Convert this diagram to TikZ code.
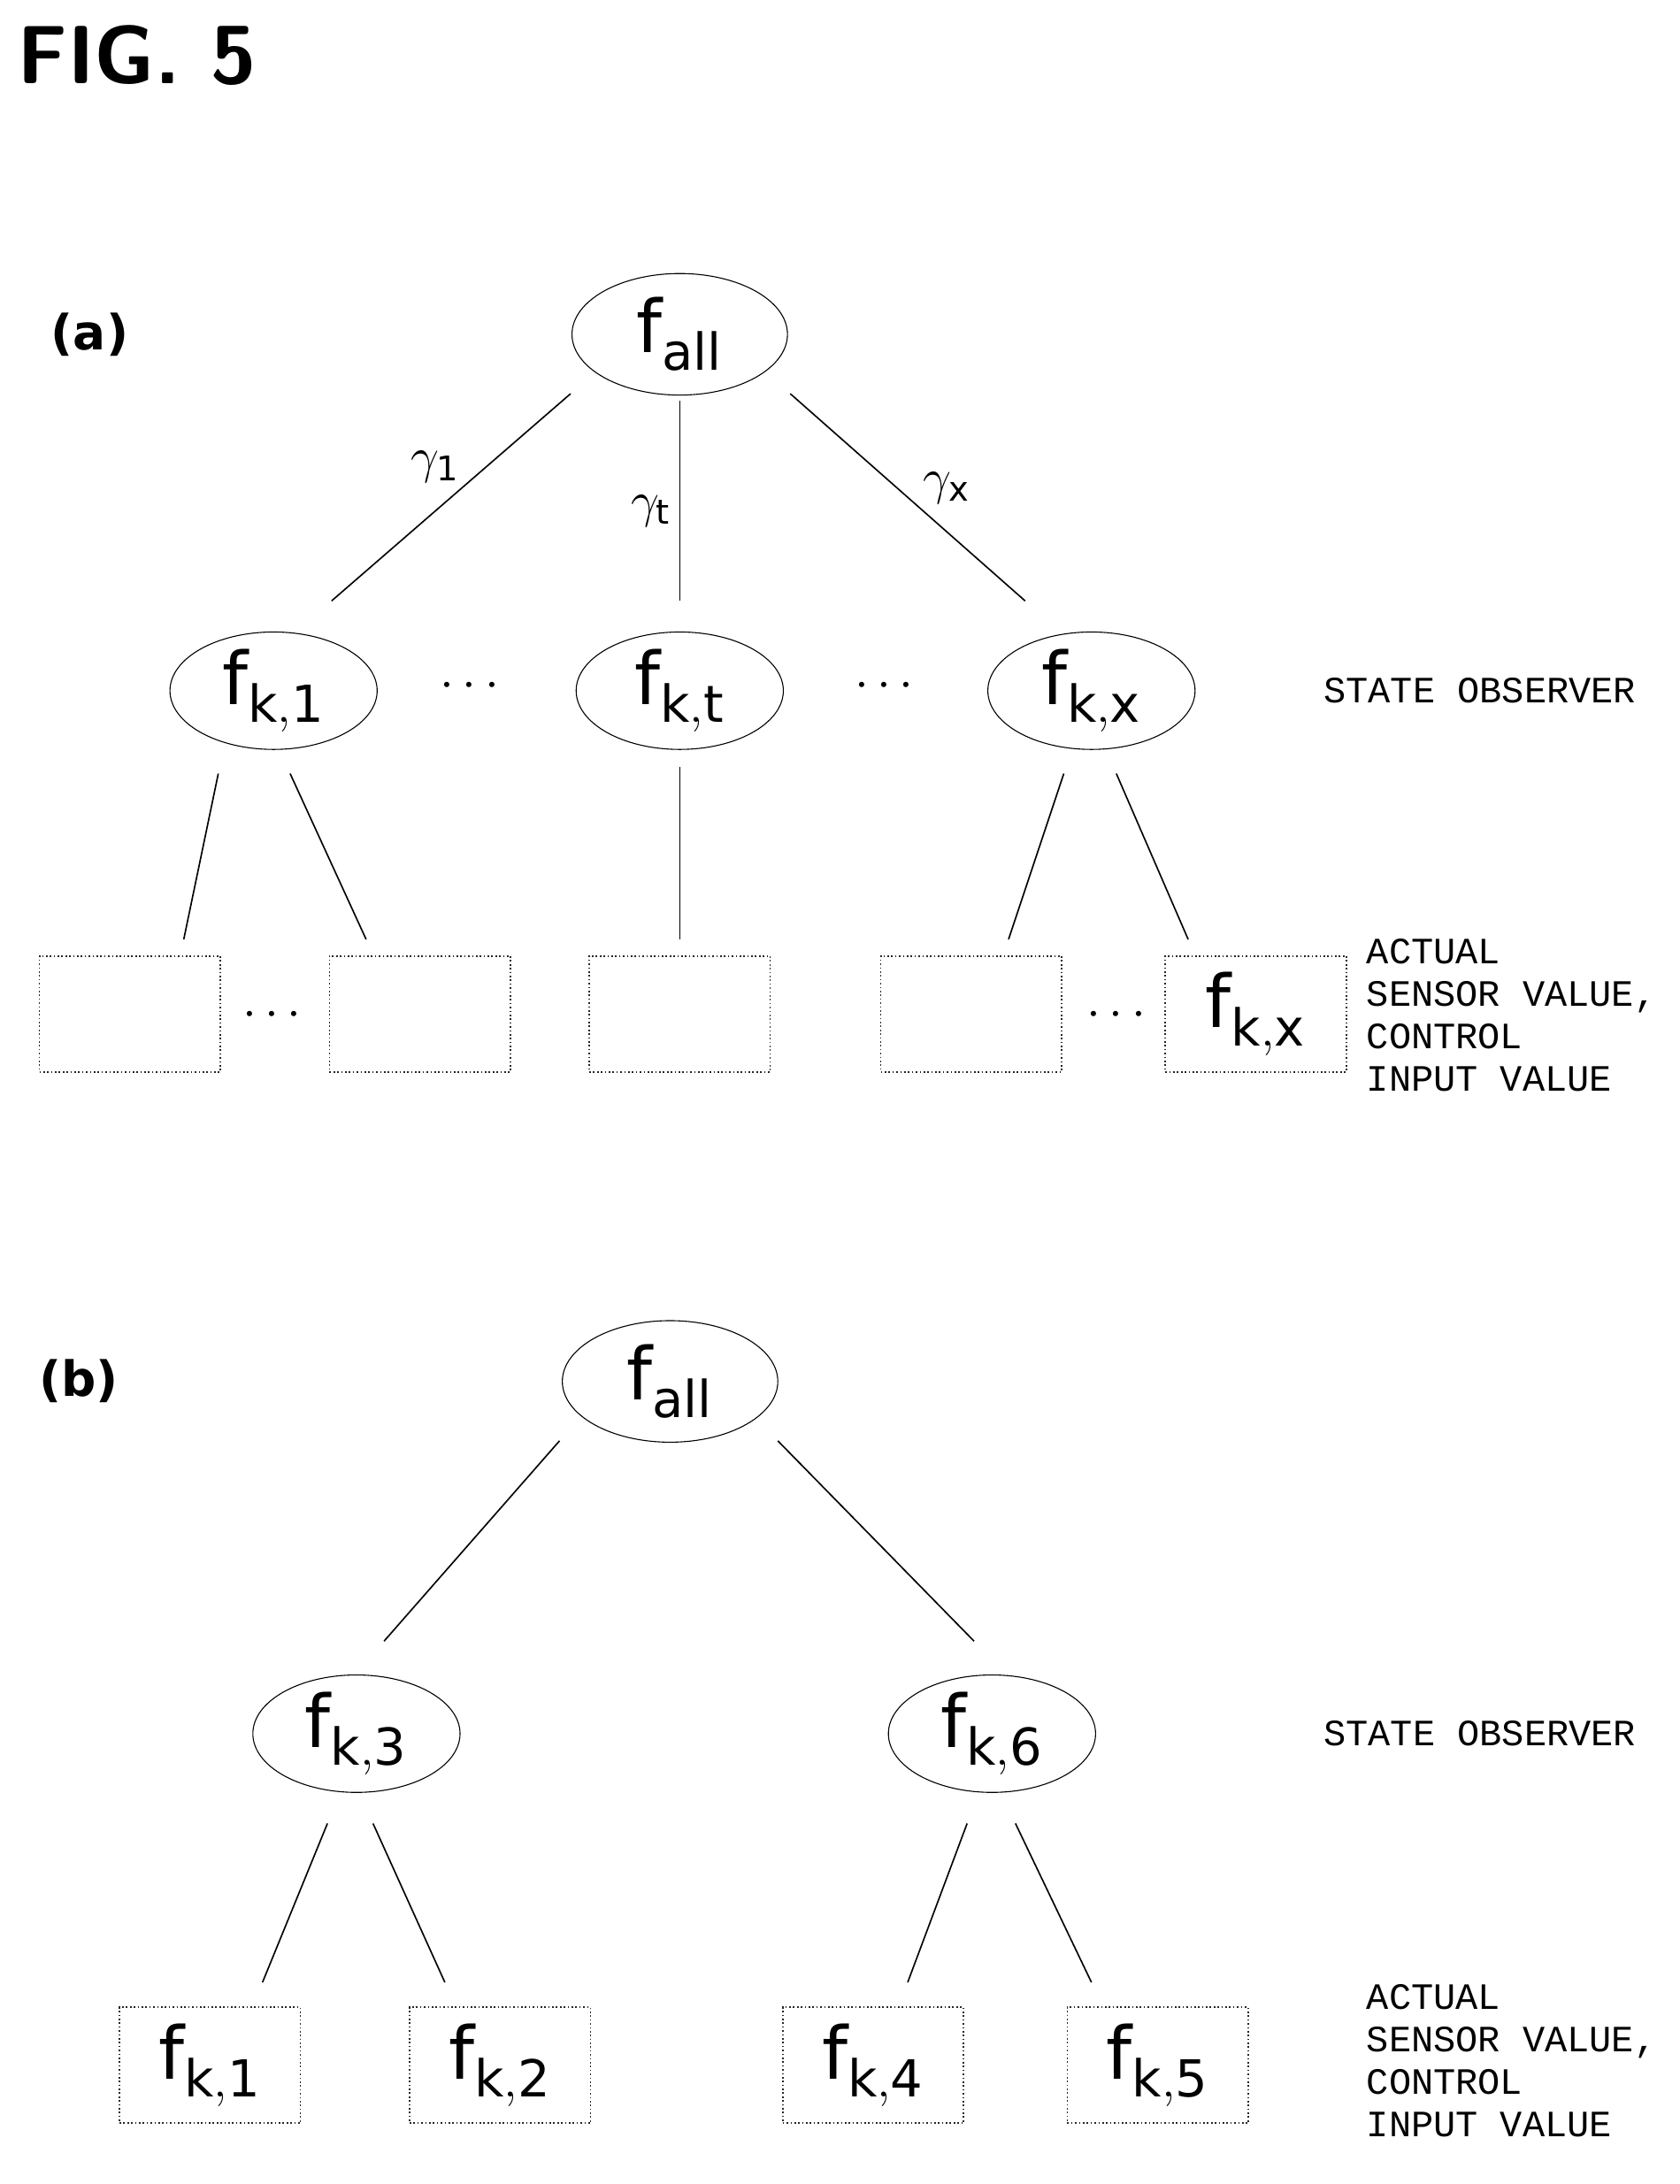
\documentclass[tikz,border=0pt]{standalone}
\usepackage{fontspec}
\setmainfont{DejaVu Sans}
\newfontfamily\lab{Liberation Mono}
\usetikzlibrary{shapes.geometric}
\begin{document}
\begin{tikzpicture}[x=0.02cm,y=-0.02cm,
 ell/.style={draw,ellipse,minimum width=3.12cm,minimum height=1.76cm,inner sep=0pt,font=\fontsize{30}{32}\selectfont},
 sell/.style={ell,minimum width=3cm,minimum height=1.7cm},
 box/.style={draw=black!85,densely dotted,line width=0.6pt,minimum width=2.62cm,minimum height=1.68cm,inner sep=0pt,font=\fontsize{30}{32}\selectfont},
 txt/.style={font=\lab\fontsize{15.3}{19.5}\selectfont,align=left,anchor=west},
 ln/.style={draw,line width=0.6pt},
 gam/.style={font=\fontsize{20}{22}\selectfont},
 dots/.style={font=\fontsize{22}{24}\selectfont}]
\useasboundingbox (0,0) rectangle (1216,1581);
\node[anchor=west,font=\sffamily\bfseries\fontsize{34}{36}\selectfont] (fig) at (6,40) {FIG. 5};
% (a)
\node[font=\bfseries\fontsize{20}{22}\selectfont] (la) at (65,242) {(a)};
\node[ell] (a0) at (492,242) {f$_{\mathrm{all}}$};
\node[sell] (a1) at (198,500) {f$_{\mathrm{k,1}}$};
\node[sell] (at) at (492,500) {f$_{\mathrm{k,t}}$};
\node[sell] (ax) at (790,500) {f$_{\mathrm{k,x}}$};
\coordinate (p1) at (413,285); \coordinate (q1) at (240,435);
\coordinate (p2) at (492,290); \coordinate (q2) at (492,435);
\coordinate (p3) at (572,285); \coordinate (q3) at (742,435);
\draw[ln] (p1) -- node[above left=-2pt, pos=0.45,gam] (g1) {$\gamma_{\mathrm{1}}$} (q1);
\draw[ln] (p2) -- node[left,pos=0.55,gam] (gt) {$\gamma_{\mathrm{t}}$} (q2);
\draw[ln] (p3) -- node[above right=-2pt,pos=0.55,gam] (gx) {$\gamma_{\mathrm{x}}$} (q3);
\node[dots] (d1) at (340,497) {$\cdots$};
\node[dots] (d2) at (640,497) {$\cdots$};
\node[txt] (so1) at (952,500) {STATE OBSERVER};
\node[box] (b1) at (94,734) {};
\node[box] (b2) at (304,734) {};
\node[box] (b3) at (492,734) {};
\node[box] (b4) at (703,734) {};
\node[box] (b5) at (909,734) {f$_{\mathrm{k,x}}$};
\node[dots] (d3) at (197,735) {$\cdots$};
\node[dots] (d4) at (808,735) {$\cdots$};
\coordinate (r1) at (158,560); \coordinate (s1) at (133,680);
\coordinate (r2) at (210,560); \coordinate (s2) at (265,680);
\coordinate (r3) at (492,555); \coordinate (s3) at (492,680);
\coordinate (r4) at (770,560); \coordinate (s4) at (730,680);
\coordinate (r5) at (808,560); \coordinate (s5) at (860,680);
\foreach \i in {1,...,5} \draw[ln] (r\i) -- (s\i);
\node[txt] (ac1) at (983,735) {ACTUAL\\[-2pt]SENSOR VALUE,\\[-2pt]CONTROL\\[-2pt]INPUT VALUE};
% (b)
\node[font=\bfseries\fontsize{20}{22}\selectfont] (lb) at (57,1000) {(b)};
\node[ell] (b0) at (485,1000) {f$_{\mathrm{all}}$};
\node[sell] (b3e) at (258,1255) {f$_{\mathrm{k,3}}$};
\node[sell] (b6e) at (718,1255) {f$_{\mathrm{k,6}}$};
\coordinate (u1) at (405,1043); \coordinate (v1) at (278,1188);
\coordinate (u2) at (563,1043); \coordinate (v2) at (705,1188);
\draw[ln] (u1) -- (v1); \draw[ln] (u2) -- (v2);
\node[txt] (so2) at (952,1255) {STATE OBSERVER};
\node[box] (c1) at (152,1495) {f$_{\mathrm{k,1}}$};
\node[box] (c2) at (362,1495) {f$_{\mathrm{k,2}}$};
\node[box] (c4) at (632,1495) {f$_{\mathrm{k,4}}$};
\node[box] (c5) at (838,1495) {f$_{\mathrm{k,5}}$};
\coordinate (w1) at (237,1320); \coordinate (z1) at (190,1435);
\coordinate (w2) at (270,1320); \coordinate (z2) at (322,1435);
\coordinate (w3) at (700,1320); \coordinate (z3) at (657,1435);
\coordinate (w4) at (735,1320); \coordinate (z4) at (790,1435);
\foreach \i in {1,...,4} \draw[ln] (w\i) -- (z\i);
\node[txt] (ac2) at (983,1492) {ACTUAL\\[-2pt]SENSOR VALUE,\\[-2pt]CONTROL\\[-2pt]INPUT VALUE};
\end{tikzpicture}
\end{document}
